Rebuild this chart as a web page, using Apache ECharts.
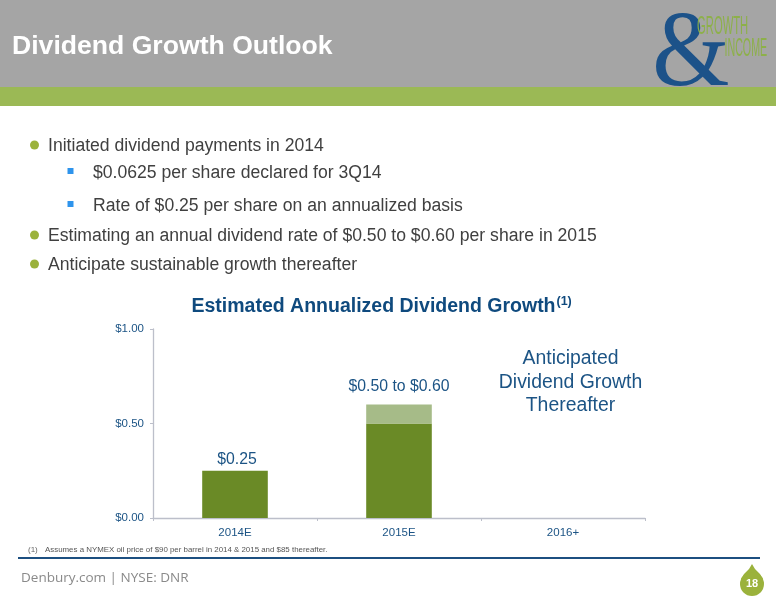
<!DOCTYPE html>
<html>
<head>
<meta charset="utf-8">
<style>
  html, body { margin: 0; padding: 0; background: #fff; }
  #chart { width: 776px; height: 600px; }
</style>
<script src="https://cdn.jsdelivr.net/npm/echarts@6/dist/echarts.min.js"></script>
</head>
<body>
<div id="chart"></div>
<script>
var categories = ['2014E', '2015E', '2016+'];
var baseValues = [0.25, 0.50, null];
var rangeValues = [null, 0.10, null];
var barLabels = ['$0.25', '$0.50 to $0.60', ''];
var yTicks = [0, 0.5, 1];
var bullets = [
  'Initiated dividend payments in 2014',
  'Estimating an annual dividend rate of $0.50 to $0.60 per share in 2015',
  'Anticipate sustainable growth thereafter'
];
var subBullets = [
  '$0.0625 per share declared for 3Q14',
  'Rate of $0.25 per share on an annualized basis'
];
var bulletY = [145, 235, 264];
var subBulletY = [172.5, 205.5];

var FONT = '"Liberation Sans", Arial, sans-serif';
var NAVY = '#1c5485';

function txt(x, y, text, size, color, extra) {
  var style = {
    text: text,
    fontSize: size,
    fontFamily: FONT,
    fill: color,
    verticalAlign: 'middle',
    align: 'left'
  };
  for (var k in extra) style[k] = extra[k];
  return { type: 'text', x: x, y: y, z: 10, style: style };
}

var graphics = [
  // header
  { type: 'rect', shape: { x: 0, y: 0, width: 776, height: 87 }, style: { fill: '#a5a5a5' } },
  { type: 'rect', shape: { x: 0, y: 87, width: 776, height: 19 }, style: { fill: '#9bb955' } },
  txt(12, 47, 'Dividend Growth Outlook', 26.6, '#ffffff', { fontWeight: 'bold' }),
  // logo
  { type: 'text', x: 691, y: 57, z: 10, scaleX: 0.92, style: {
    text: '&', fontSize: 108, fontFamily: '"Liberation Serif", serif', fill: '#1c5289',
    align: 'center', verticalAlign: 'middle'
  } },
  { type: 'text', x: 697, y: 27, z: 11, scaleX: 0.45, style: {
    text: 'GROWTH', fontSize: 25, fontFamily: FONT, fill: '#8db04a', verticalAlign: 'middle'
  } },
  { type: 'text', x: 724.5, y: 49, z: 11, scaleX: 0.41, style: {
    text: 'INCOME', fontSize: 26, fontFamily: FONT, fill: '#8db04a', verticalAlign: 'middle'
  } },
  // footer
  { type: 'rect', shape: { x: 18, y: 557, width: 742, height: 2 }, style: { fill: '#1c4f80' } },
  txt(21, 578, 'Denbury.com | NYSE: DNR', 13.5, '#8a8a8a', { fontFamily: '"Open Sans", sans-serif' }),
  txt(28, 549.5, '(1)', 8, '#666666'),
  txt(45, 549.5, 'Assumes a NYMEX oil price of $90 per barrel in 2014 & 2015 and $85 thereafter.', 7.9, '#555555'),
  // page badge
  { type: 'polygon', z: 10, shape: {
    points: [[752, 564], [749, 569], [744, 574], [741, 579], [763, 579], [760, 574], [755, 569]]
  }, style: { fill: '#9bb23c' } },
  { type: 'circle', z: 10, shape: { cx: 752, cy: 584, r: 12 }, style: { fill: '#9bb23c' } },
  txt(752, 583.5, '18', 11, '#ffffff', { fontWeight: 'bold', align: 'center' }),
  // chart side text
  txt(570.5, 358.5, 'Anticipated', 19.4, NAVY, { align: 'center' }),
  txt(570.5, 382.5, 'Dividend Growth', 19.4, NAVY, { align: 'center' }),
  txt(570.5, 406, 'Thereafter', 19.4, NAVY, { align: 'center' }),
  txt(556.5, 302, '(1)', 12.5, '#0f4a7e', { fontWeight: 'bold' })
];

bullets.forEach(function (b, i) {
  graphics.push({ type: 'circle', shape: { cx: 34.5, cy: bulletY[i], r: 4.5 }, style: { fill: '#9bb23c' } });
  graphics.push(txt(48, bulletY[i] + 1, b, 17.6, '#404040'));
});
subBullets.forEach(function (b, i) {
  graphics.push({ type: 'rect', shape: { x: 67.5, y: subBulletY[i] - 4.5, width: 6, height: 6 }, style: { fill: '#2e94ec' } });
  graphics.push(txt(93, subBulletY[i] + 1, b, 17.6, '#404040'));
});

var chart = echarts.init(document.getElementById('chart'), null, { renderer: 'canvas' });
chart.setOption({
  animation: false,
  backgroundColor: '#ffffff',
  title: {
    text: 'Estimated Annualized Dividend Growth',
    left: 186.5,
    top: 292,
    textStyle: { fontFamily: FONT, fontSize: 19.5, fontWeight: 'bold', color: '#0f4a7e' }
  },
  grid: { left: 153, right: 131, top: 329, bottom: 82 },
  xAxis: {
    type: 'category',
    data: categories,
    axisLine: { lineStyle: { color: '#bcbfca', width: 1.3 } },
    axisTick: { show: true, length: 3, inside: false, alignWithLabel: false, lineStyle: { color: '#bcbfca' } },
    axisLabel: { fontFamily: FONT, fontSize: 11.5, color: NAVY, margin: 9 }
  },
  yAxis: {
    type: 'value',
    min: yTicks[0],
    max: yTicks[2],
    interval: yTicks[1],
    axisLine: { show: true, lineStyle: { color: '#bcbfca', width: 1.3 } },
    axisTick: { show: true, length: 3, lineStyle: { color: '#bcbfca' } },
    splitLine: { show: false },
    axisLabel: {
      fontFamily: FONT, fontSize: 11.5, color: NAVY, margin: 9,
      formatter: function (v) { return '$' + v.toFixed(2); }
    }
  },
  series: [
    {
      name: 'Base',
      type: 'bar',
      stack: 'dividend',
      barWidth: '40%',
      data: baseValues,
      itemStyle: { color: '#6a8a26' },
      label: {
        show: true,
        position: 'top',
        distance: 3,
        offset: [2, 0],
        fontFamily: FONT,
        fontSize: 15.8,
        color: NAVY,
        formatter: function (p) { return p.dataIndex === 0 ? barLabels[0] : ''; }
      }
    },
    {
      name: 'Range',
      type: 'bar',
      stack: 'dividend',
      barWidth: '40%',
      data: rangeValues,
      itemStyle: { color: '#a6bb88' },
      label: {
        show: true,
        position: 'top',
        distance: 10,
        fontFamily: FONT,
        fontSize: 15.8,
        color: NAVY,
        formatter: function (p) { return barLabels[p.dataIndex]; }
      }
    }
  ],
  graphic: graphics
});
</script>
</body>
</html>
